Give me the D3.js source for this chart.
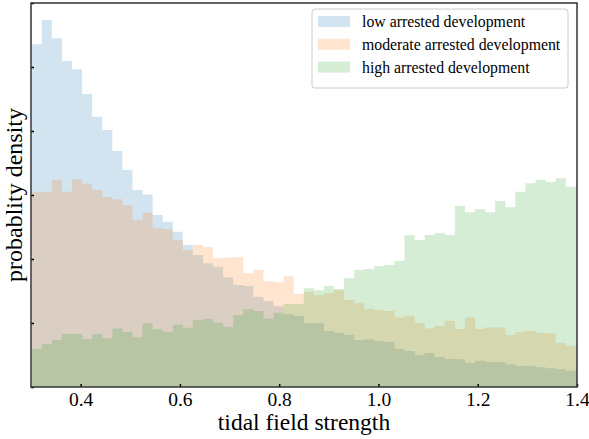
<!DOCTYPE html>
<html>
<head>
<meta charset="utf-8">
<script src="https://cdn.jsdelivr.net/npm/d3@7"></script>
<style>
  body { margin: 0; background: #fff; }
  svg { display: block; }
  text { font-family: "Liberation Serif", "Times New Roman", serif; }
</style>
</head>
<body>
<div id="chart"></div>
<script>
// histogram bins (tidal field strength)
const binStart = 0.3014;
const binWidth = 0.0203;

// probability density per bin
const lowDev = [2.677, 2.867, 2.724, 2.547, 2.482, 2.289, 2.112, 2.008, 1.844, 1.695,
  1.539, 1.504, 1.344, 1.291, 1.213, 1.109, 1.031, 0.966, 0.940, 0.855,
  0.797, 0.789, 0.705, 0.672, 0.630, 0.568, 0.555, 0.498, 0.498, 0.438,
  0.424, 0.406, 0.367, 0.373, 0.359, 0.352, 0.297, 0.281, 0.250, 0.266,
  0.234, 0.219, 0.216, 0.190, 0.205, 0.195, 0.195, 0.177, 0.164, 0.164,
  0.154, 0.146, 0.141, 0.127, 0.125];
const modDev = [1.521, 1.526, 1.617, 1.526, 1.623, 1.588, 1.539, 1.484, 1.466, 1.422,
  1.305, 1.362, 1.240, 1.232, 1.148, 1.070, 1.109, 1.094, 1.005, 1.012,
  1.013, 0.888, 0.914, 0.826, 0.818, 0.865, 0.727, 0.742, 0.716, 0.732,
  0.755, 0.680, 0.654, 0.612, 0.599, 0.594, 0.542, 0.557, 0.500, 0.458,
  0.477, 0.516, 0.453, 0.542, 0.453, 0.464, 0.464, 0.406, 0.430, 0.438,
  0.424, 0.419, 0.346, 0.323, 0.320];
const highDev = [0.297, 0.336, 0.367, 0.414, 0.414, 0.375, 0.414, 0.380, 0.458, 0.430,
  0.388, 0.498, 0.451, 0.432, 0.487, 0.463, 0.523, 0.531, 0.502, 0.471,
  0.563, 0.607, 0.594, 0.535, 0.580, 0.648, 0.648, 0.771, 0.755, 0.789,
  0.766, 0.849, 0.914, 0.922, 0.945, 0.953, 0.984, 1.185, 1.148, 1.188,
  1.203, 1.188, 1.414, 1.365, 1.388, 1.365, 1.453, 1.404, 1.526, 1.591,
  1.620, 1.602, 1.630, 1.565, 1.565];

const seriesNames = ["low arrested development", "moderate arrested development", "high arrested development"];
const seriesColors = ["#1f77b4", "#ff7f0e", "#2ca02c"];

const xTicks = [0.4, 0.6, 0.8, 1.0, 1.2, 1.4];
const yTicks = [0, 0.5, 1.0, 1.5, 2.0, 2.5, 3.0];

const width = 589, height = 439;
const margin = {top: 3, right: 12, bottom: 52, left: 31};
const innerW = width - margin.left - margin.right;
const innerH = height - margin.top - margin.bottom;

const svg = d3.select("#chart")
    .append("svg")
    .attr("width", width)
    .attr("height", height);

const g = svg.append("g")
    .attr("transform", `translate(${margin.left},${margin.top})`);

const x = d3.scaleLinear().domain([0.3, 1.4]).range([0, innerW]);
const y = d3.scaleLinear().domain([0, 3]).range([innerH, 0]);

g.append("clipPath").attr("id", "plotClip")
    .append("rect").attr("width", innerW).attr("height", innerH);

const area = d3.area()
    .curve(d3.curveStepAfter)
    .x(d => x(d[0]))
    .y0(y(0))
    .y1(d => y(d[1]));

const allSeries = [lowDev, modDev, highDev];
allSeries.forEach((vals, k) => {
    const pts = vals.map((v, i) => [binStart + i * binWidth, v]);
    pts.push([binStart + vals.length * binWidth, vals[vals.length - 1]]);
    g.append("path")
        .attr("clip-path", "url(#plotClip)")
        .attr("d", area(pts))
        .attr("fill", seriesColors[k])
        .attr("fill-opacity", 0.2);
});

// axes, ticks pointing inward
const xAxis = g.append("g")
    .attr("transform", `translate(0,${innerH})`)
    .call(d3.axisBottom(x).tickValues(xTicks).tickFormat(d3.format(".1f"))
        .tickSizeInner(-3).tickSizeOuter(0).tickPadding(5));
xAxis.select(".domain").remove();
xAxis.selectAll("line").attr("stroke", "#000").attr("stroke-width", 1.5);
xAxis.selectAll("text").attr("font-size", 19.5).attr("fill", "#000")
    .style("font-family", '"Liberation Serif", serif');

const yAxis = g.append("g")
    .call(d3.axisLeft(y).tickValues(yTicks).tickFormat("")
        .tickSizeInner(-3).tickSizeOuter(0));
yAxis.select(".domain").remove();
yAxis.selectAll("line").attr("stroke", "#000").attr("stroke-width", 1.5);

// frame
g.append("rect")
    .attr("width", innerW)
    .attr("height", innerH)
    .attr("fill", "none")
    .attr("stroke", "#333")
    .attr("stroke-width", 1.5);

// axis labels
svg.append("text")
    .attr("x", margin.left + innerW / 2)
    .attr("y", 430)
    .attr("text-anchor", "middle")
    .attr("font-size", 23.5)
    .text("tidal field strength");

svg.append("text")
    .attr("transform", `translate(22,${margin.top + innerH / 2}) rotate(-90)`)
    .attr("text-anchor", "middle")
    .attr("font-size", 24)
    .text("probablity density");

// legend
const legend = svg.append("g").attr("transform", "translate(312,9)");
legend.append("rect")
    .attr("width", 256)
    .attr("height", 79)
    .attr("rx", 3)
    .attr("fill", "#fff")
    .attr("fill-opacity", 0.8)
    .attr("stroke", "#ccc")
    .attr("stroke-width", 1);

const items = legend.selectAll(".legend-item")
    .data(seriesNames)
    .enter().append("g")
    .attr("class", "legend-item")
    .attr("transform", (d, i) => `translate(0,${i * 22.8})`);

items.append("rect")
    .attr("x", 6)
    .attr("y", 7)
    .attr("width", 32)
    .attr("height", 11)
    .attr("fill", (d, i) => seriesColors[i])
    .attr("fill-opacity", 0.2);

items.append("text")
    .attr("x", 50)
    .attr("y", 18)
    .attr("font-size", 15.8)
    .text(d => d);
</script>
</body>
</html>
